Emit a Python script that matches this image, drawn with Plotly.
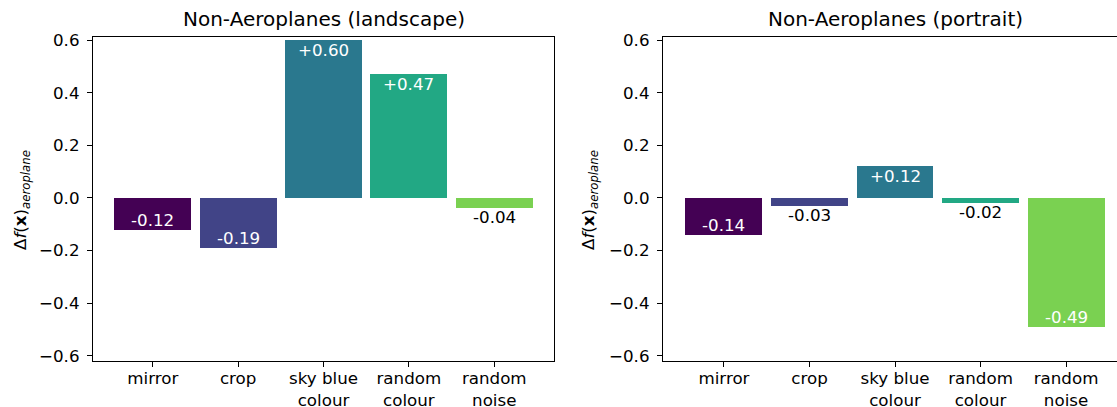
import plotly.graph_objects as go

# data
categories = ["mirror", "crop", "sky blue<br>colour", "random<br>colour", "random<br>noise"]
landscape = [-0.12, -0.19, 0.60, 0.47, -0.04]
portrait = [-0.14, -0.03, 0.12, -0.02, -0.49]
bar_colors = ["#440154", "#414487", "#2a788e", "#22a884", "#7ad151"]
titles = ["Non-Aeroplanes (landscape)", "Non-Aeroplanes (portrait)"]
ytick_vals = [-0.6, -0.4, -0.2, 0.0, 0.2, 0.4, 0.6]
ytick_text = ["−0.6", "−0.4", "−0.2", "0.0", "0.2", "0.4", "0.6"]
ylabel = "Δ<i>f</i>(<b>x</b>)<sub><i>aeroplane</i></sub>"

W, H = 1117, 407
FONT = "DejaVu Sans"
TICK_SIZE = 16.7

fig = go.Figure()

for i, vals in enumerate([landscape, portrait]):
    xa = "x" if i == 0 else "x2"
    ya = "y" if i == 0 else "y2"
    fig.add_trace(
        go.Bar(
            x=categories,
            y=vals,
            width=0.9,
            marker=dict(color=bar_colors, line_width=0),
            xaxis=xa,
            yaxis=ya,
            showlegend=False,
            hoverinfo="skip",
        )
    )
    # value labels: inside (white) for big bars, outside (black) for small ones
    for c, v in zip(categories, vals):
        sign = 1 if v >= 0 else -1
        inside = abs(v) >= 0.1
        fig.add_annotation(
            x=c,
            y=v,
            xref=xa,
            yref=ya,
            text=f"{v:+.2f}" if v > 0 else f"{v:.2f}",
            showarrow=False,
            yanchor="middle",
            yshift=-sign * 10 if inside else sign * 9,
            font=dict(family=FONT, size=TICK_SIZE, color="white" if inside else "black"),
        )

axis_common = dict(
    showline=True,
    linecolor="black",
    linewidth=1.2,
    ticks="outside",
    ticklen=5,
    tickwidth=1.2,
    tickcolor="black",
    showgrid=False,
    zeroline=False,
    automargin=False,
    tickfont=dict(family=FONT, size=TICK_SIZE, color="black"),
)

fig.update_layout(
    width=W,
    height=H,
    margin=dict(l=0, r=0, t=0, b=0),
    plot_bgcolor="white",
    paper_bgcolor="white",
    bargap=0,
    xaxis=dict(
        axis_common, domain=[93 / W, 554 / W], range=[-0.7, 4.7], mirror=True,
        anchor="y", ticklabelstandoff=-3,
    ),
    yaxis=dict(
        axis_common, domain=[46 / H, 370 / H], range=[-0.62, 0.612], mirror=True,
        anchor="x", tickvals=ytick_vals, ticktext=ytick_text, ticklabelstandoff=4,
    ),
    xaxis2=dict(
        axis_common, domain=[663 / W, 1.0], range=[-0.713, 4.596], mirror=True,
        anchor="y2", ticklabelstandoff=-3,
    ),
    yaxis2=dict(
        axis_common, domain=[46 / H, 370 / H], range=[-0.62, 0.612], mirror=False,
        anchor="x2", tickvals=ytick_vals, ticktext=ytick_text, ticklabelstandoff=4,
    ),
)

# subplot titles and y labels
for cx, t in zip([323.5, 895], titles):
    fig.add_annotation(
        x=cx / W, y=1 - 19 / H, xref="paper", yref="paper", text=t, showarrow=False,
        xanchor="center", yanchor="middle", font=dict(family=FONT, size=20, color="black"),
    )
for lx in [21, 589]:
    fig.add_annotation(
        x=lx / W, y=1 - 200 / H, xref="paper", yref="paper", text=ylabel, showarrow=False,
        textangle=-90, xanchor="center", yanchor="middle",
        font=dict(family=FONT, size=TICK_SIZE, color="black"),
    )

# drop the default page margin so the figure sits at the window corner
fig.write_html(
    "out.html",
    config={"displayModeBar": False},
    post_script="document.body.style.margin='0';document.body.style.overflow='hidden';",
)
